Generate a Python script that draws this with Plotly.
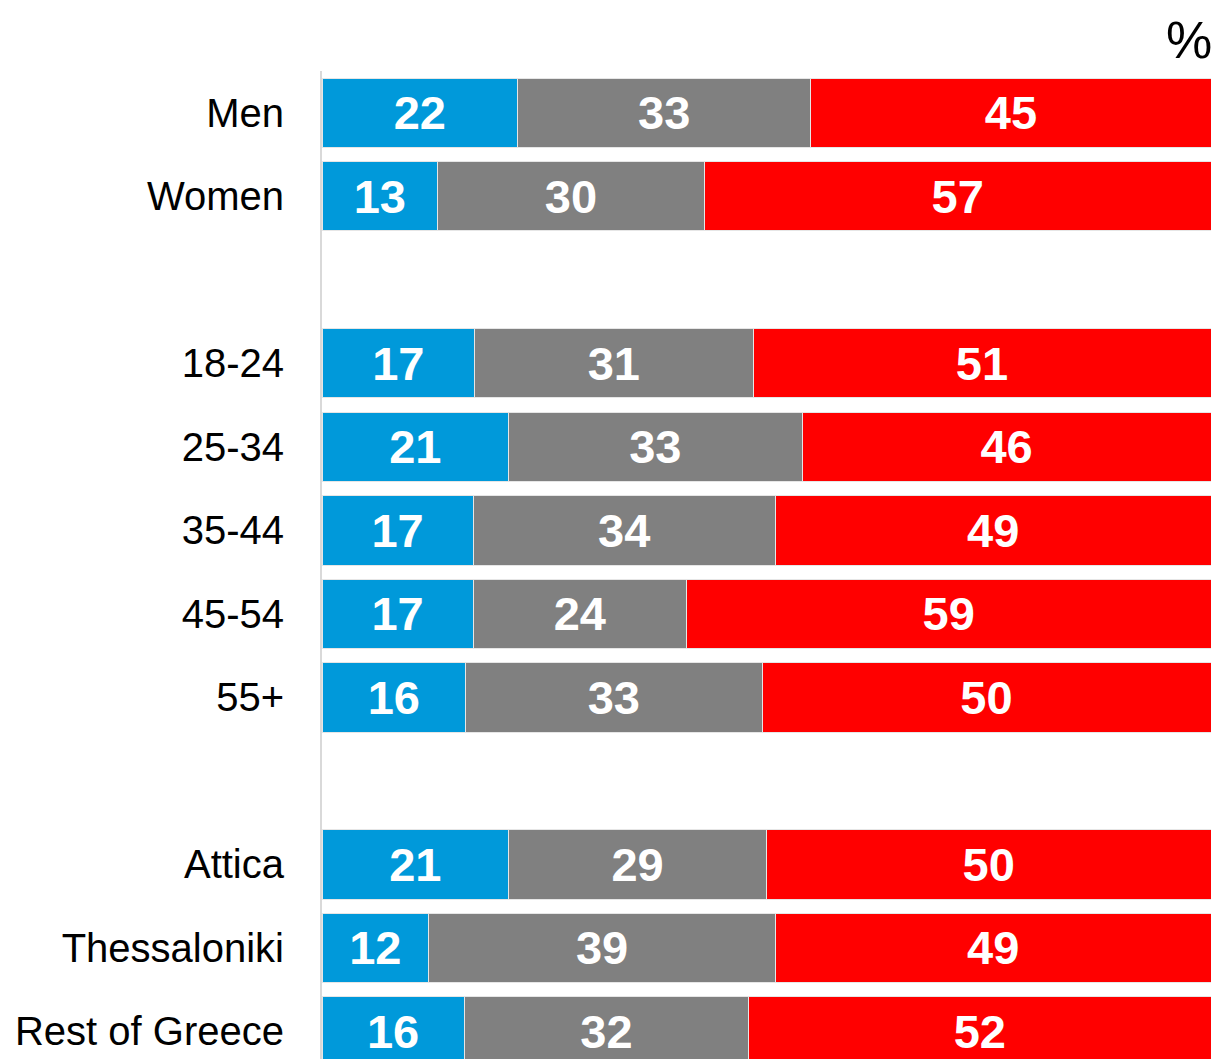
import plotly.graph_objects as go

groups = [
    ["Men", "Women"],
    ["18-24", "25-34", "35-44", "45-54", "55+"],
    ["Attica", "Thessaloniki", "Rest of Greece"],
]
blue_vals = [22, 13, 17, 21, 17, 17, 16, 21, 12, 16]
gray_vals = [33, 30, 31, 33, 34, 24, 33, 29, 39, 32]
red_vals = [45, 57, 51, 46, 49, 59, 50, 50, 49, 52]
series_colors = ["#0099DA", "#808080", "#FF0000"]
series_names = ["Positive", "Neutral", "Negative"]

# Build row positions: one empty slot between groups
labels, ypos = [], []
slot = 0
for gi, g in enumerate(groups):
    for lab in g:
        labels.append(lab)
        ypos.append(slot)
        slot += 1
    slot += 1

fig = go.Figure()
for name, vals, col in zip(series_names, [blue_vals, gray_vals, red_vals], series_colors):
    fig.add_trace(go.Bar(
        y=ypos, x=vals, orientation="h", name=name,
        marker=dict(color=col, line=dict(color="#e6e6e6", width=1)),
        text=[str(v) for v in vals], texttemplate="%{text}",
        textposition="inside", insidetextanchor="middle",
        textfont=dict(family="Liberation Sans, Arial", size=47, color="white", weight="bold"),
        width=0.83, hoverinfo="skip",
    ))

fig.update_layout(
    barmode="stack", barnorm="percent",
    width=1212, height=1051,
    margin=dict(l=314, r=9, t=63, b=0),
    paper_bgcolor="white", plot_bgcolor="white",
    showlegend=False,
    uniformtext=dict(mode=False),
)
fig.update_xaxes(range=[0, 100], visible=False, fixedrange=True)
fig.update_yaxes(
    range=[11.33, -0.5], tickvals=ypos, ticktext=labels,
    tickfont=dict(family="Liberation Sans, Arial", size=40, color="black"),
    showgrid=False, zeroline=False, showline=True, linecolor="#d9d9d9", linewidth=2,
    ticks="", ticklabelstandoff=28,
)
fig.add_annotation(
    text="%", xref="paper", yref="paper", x=1.0, y=1.0, xanchor="right", yanchor="bottom",
    xshift=2, yshift=1, borderpad=0,
    showarrow=False, font=dict(family="Liberation Sans, Arial", size=52, color="black"),
)
fig.write_html("out.html")
